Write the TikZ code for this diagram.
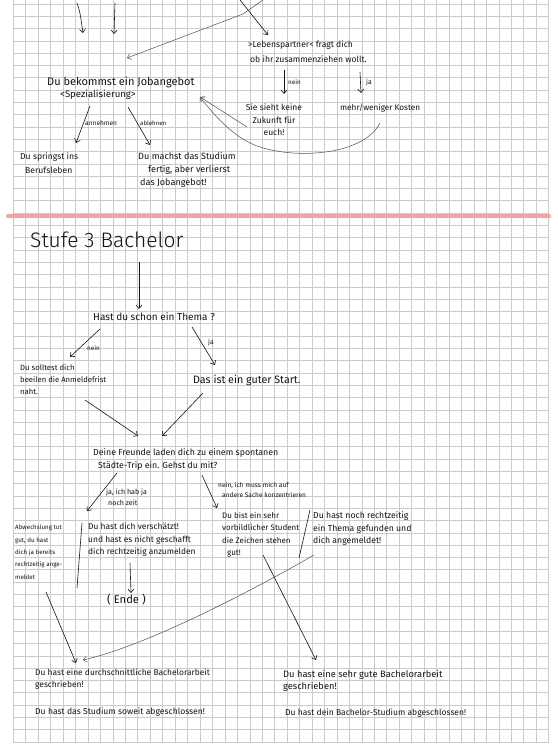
\documentclass[tikz,border=0pt]{standalone}
\usepackage{fontspec}
\setmainfont{Fira Sans}
\newfontfamily\lightfont{Fira Sans}[UprightFont={* Light}]
\usetikzlibrary{arrows.meta}
\definecolor{gridc}{RGB}{203,203,203}
\definecolor{redline}{RGB}{247,162,162}
\definecolor{ink}{RGB}{20,20,20}
\definecolor{pencil}{RGB}{80,80,80}
\newcommand{\fsz}[2]{\fontsize{#1}{#2}\selectfont}
\begin{document}
\begin{tikzpicture}[x=1pt,y=-1pt,
  txt/.style={anchor=north west, inner sep=0pt, align=left, text=ink},
  ctxt/.style={anchor=north, inner sep=0pt, align=center, text=ink},
  wtxt/.style={anchor=west, inner sep=0pt, text=ink},
  arr/.style={draw=ink, line width=0.6pt, -{Straight Barb[length=3.5pt,width=6pt]}},
  parr/.style={draw=pencil, line width=0.5pt, -{Straight Barb[length=3.5pt,width=6pt]}},
  sepline/.style={draw=ink, line width=0.6pt}]
\useasboundingbox (0,0) rectangle (557,746);
\fill[white] (0,0) rectangle (557,746);
% grid paper
\foreach \i in {0,...,43} \draw[gridc, line width=0.7pt] ({13.3+12.45*\i},0) -- ({13.3+12.45*\i},742);
\foreach \j in {0,...,60} \draw[gridc, line width=0.7pt] (13.3,{4+12.3*\j}) -- (548.7,{4+12.3*\j});

% ---------- upper part ----------
\node[txt, font=\fsz{8.6}{15}] (partner) at (248,40.9) {>Lebenspartner< fragt dich\\\hspace*{2pt}ob ihr zusammenziehen wollt.};
\node[wtxt, font=\fsz{6.3}{7}] (neinA) at (288,82) {nein};
\node[wtxt, font=\fsz{6.8}{8}] (jaA) at (366,83) {ja};
\node[ctxt, font=\fsz{8.5}{12.5}] (sieht) at (274,103.9) {Sie sieht keine\\Zukunft für\\euch!};
\node[wtxt, font=\fsz{8.2}{9}] (kosten) at (340,108) {mehr/weniger Kosten};
\node[wtxt, font=\fsz{11}{12}] (job) at (47,82) {Du bekommst ein Jobangebot};
\node[wtxt, font=\fsz{9.6}{10}] (spez) at (60,95) {<Spezialisierung>};
\node[wtxt, font=\fsz{6.6}{8}] (annehmen) at (85,123) {annehmen};
\node[wtxt, font=\fsz{6.1}{8}] (ablehnen) at (140,123) {ablehnen};
\node[txt, font=\fsz{8.6}{14}] (spring) at (20,152.9) {Du springst ins\\\hspace*{5pt}Berufsleben};
\node[txt, font=\fsz{9.1}{13}] (fertig) at (138,152.6) {Du machst das Studium\\\hspace*{10pt}fertig, aber verlierst\\\hspace*{2pt}das Jobangebot!};

\coordinate (inA) at (77,3);   \coordinate (outA) at (83,33);
\coordinate (inB) at (115,3);  \coordinate (outB) at (114,34);
\coordinate (inC) at (240,0);  \coordinate (outC) at (268,35);
\coordinate (inD) at (263,0);  \coordinate (kinkD) at (243,14); \coordinate (outD) at (127,58);
\coordinate (nA1) at (284,70); \coordinate (nA2) at (284,94);
\coordinate (jA1) at (360,72); \coordinate (jA2) at (361,93);
\coordinate (sieOut) at (247,127); \coordinate (jobIn) at (200,97);
\coordinate (kosOut) at (380,123);
\coordinate (spezL) at (90,106); \coordinate (springIn) at (76,143);
\coordinate (spezR) at (128,107); \coordinate (fertigIn) at (150,145);

\draw[arr] (inA) .. controls (80,12) .. (outA);
\draw[arr] (inB) -- (outB);
\draw[arr] (inC) -- (outC);
\draw[parr] (inD) -- (kinkD) -- (outD);
\draw[arr] (nA1) -- (nA2);
\draw[arr] (jA1) -- (jA2);
\draw[parr] (sieOut) -- (jobIn);
\draw[parr] (kosOut) .. controls (362,158) and (285,160) .. (250,143) .. controls (230,133) and (214,115) .. (jobIn);
\draw[arr] (spezL) -- (springIn);
\draw[arr] (spezR) -- (fertigIn);

% ---------- separator ----------
\draw[redline, line width=4pt, line cap=round] (8,216) -- (549,216);

% ---------- Stufe 3 ----------
\node[wtxt, font=\lightfont\fsz{21}{22}] (title) at (30,240) {Stufe 3 Bachelor};
\node[wtxt, font=\fsz{10}{11}] (thema) at (93,317) {Hast du schon ein Thema ?};
\node[wtxt, font=\fsz{6.3}{7}] (neinB) at (87,348) {nein};
\node[wtxt, font=\fsz{6.8}{7}] (jaB) at (208,343) {ja};
\node[txt, font=\fsz{7.7}{12.2}] (beeil) at (20,364.3) {Du solltest dich\\beeilen die Anmeldefrist\\naht.};
\node[wtxt, font=\fsz{10.7}{12}] (start) at (193,380) {Das ist ein guter Start.};
\node[txt, font=\fsz{8.8}{12.5}] (freunde) at (93,448.8) {Deine Freunde laden dich zu einem spontanen\\\hspace*{5pt}Städte-Trip ein. Gehst du mit?};
\node[txt, font=\fsz{7.1}{11}] (jaC) at (106,488.6) {ja, ich hab ja\\\hspace*{2pt}noch zeit};
\node[txt, font=\fsz{6.6}{10}] (neinC) at (218,481.8) {nein, ich muss mich auf\\\hspace*{4pt}andere Sache konzentrieren};
\node[txt, font=\fsz{6.2}{12.3}] (abw) at (15,525) {Abwechslung tut\\gut, du hast\\dich ja bereits\\rechtzeitig ange-\\meldet};
\node[txt, font=\fsz{8.4}{12.5}] (versch) at (88,523) {Du hast dich verschätzt!\\und hast es nicht geschafft\\dich rechtzeitig anzumelden};
\node[wtxt, font=\fsz{11.2}{12}] (ende) at (107,600) {( Ende )};
\node[txt, font=\fsz{8}{12.3}] (vorb) at (222,512.2) {Du bist ein sehr\\vorbildlicher Student\\die Zeichen stehen\\\hspace*{5pt}gut!};
\node[txt, font=\fsz{8.7}{12.5}] (rechtz) at (313,511.8) {Du hast noch rechtzeitig\\ein Thema gefunden und\\dich angemeldet!};
\node[txt, font=\fsz{8.4}{12}] (avg) at (35,669) {Du hast eine durchschnittliche Bachelorarbeit\\geschrieben!};
\node[wtxt, font=\fsz{8.6}{9}] (avg2) at (35,712) {Du hast das Studium soweit abgeschlossen!};
\node[txt, font=\fsz{9.3}{12}] (good) at (283,670.5) {Du hast eine sehr gute Bachelorarbeit\\geschrieben!};
\node[wtxt, font=\fsz{8.5}{9}] (good2) at (285,713) {Du hast dein Bachelor-Studium abgeschlossen!};

\coordinate (titleOut) at (139,262); \coordinate (themaIn) at (139,309);
\coordinate (thL) at (100,329); \coordinate (beeilIn) at (70,357);
\coordinate (thR) at (192,327); \coordinate (startIn) at (215,365);
\coordinate (beeilOut) at (85,400); \coordinate (frIn1) at (138,436);
\coordinate (startOut) at (203,393); \coordinate (frIn2) at (162,436);
\coordinate (frL) at (117,473); \coordinate (frLend) at (87,511);
\coordinate (frR) at (202,475); \coordinate (frRend) at (217,508);
\coordinate (sepA1) at (82,523); \coordinate (sepA2) at (77,588);
\coordinate (sepB1) at (310,510); \coordinate (sepB2) at (299,558);
\coordinate (verOut) at (130,563); \coordinate (endeIn) at (131,593);
\coordinate (abwOut) at (46,592); \coordinate (avgIn) at (76,663);
\coordinate (rzOut) at (314,555); \coordinate (avgIn2) at (83,660);
\coordinate (vbOut) at (263,555); \coordinate (goodIn) at (316,660);

\draw[arr] (titleOut) -- (themaIn);
\draw[arr] (thL) -- (beeilIn);
\draw[arr] (thR) -- (startIn);
\draw[arr] (beeilOut) -- (frIn1);
\draw[arr] (startOut) -- (frIn2);
\draw[arr] (frL) -- (frLend);
\draw[arr] (frR) -- (frRend);
\draw[sepline] (sepA1) -- (sepA2);
\draw[sepline] (sepB1) -- (sepB2);
\draw[arr] (verOut) -- (endeIn);
\draw[arr] (abwOut) -- (avgIn);
\draw[parr] (rzOut) .. controls (262,585) and (150,645) .. (avgIn2);
\draw[arr] (vbOut) -- (goodIn);
\end{tikzpicture}
\end{document}
